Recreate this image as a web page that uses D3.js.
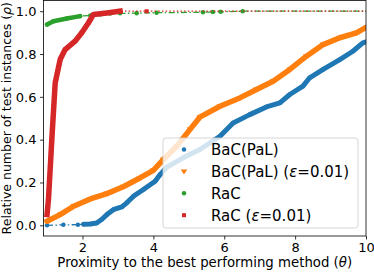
<!DOCTYPE html>
<html>
<head>
<meta charset="utf-8">
<script src="https://cdn.jsdelivr.net/npm/d3@7"></script>
<style>
  body { margin: 0; background: #fff; }
  text { font-family: "DejaVu Sans", sans-serif; fill: #000; }
</style>
</head>
<body>
<div id="chart"></div>
<script>
// Values
var bacX = [1.0, 1.46, 1.87, 2.03, 2.22, 2.4, 2.54, 2.69, 2.87, 3.11, 3.25, 3.44, 3.72, 4.05, 4.19, 4.38, 4.84, 5.31, 5.6, 5.88, 6.25, 6.72, 7.19, 7.57, 7.85, 8.22, 8.41, 8.79, 9.26, 9.63, 9.91, 10.0];
var bacY = [0.0, 0.002, 0.003, 0.005, 0.006, 0.011, 0.027, 0.05, 0.073, 0.086, 0.105, 0.136, 0.167, 0.206, 0.237, 0.272, 0.315, 0.354, 0.385, 0.416, 0.478, 0.517, 0.553, 0.572, 0.611, 0.65, 0.689, 0.728, 0.774, 0.813, 0.852, 0.856];

var bacEpsX = [1.0, 1.37, 1.75, 2.22, 2.69, 3.15, 3.62, 4.0, 4.28, 4.66, 5.03, 5.31, 5.88, 6.44, 6.91, 7.38, 7.85, 8.32, 8.79, 9.26, 9.73, 10.0];
var bacEpsY = [0.019, 0.05, 0.089, 0.123, 0.148, 0.18, 0.221, 0.257, 0.307, 0.369, 0.447, 0.505, 0.556, 0.595, 0.634, 0.673, 0.728, 0.79, 0.844, 0.876, 0.899, 0.925];

var racX = [1.0, 1.18, 1.56, 1.93, 2.22, 2.5, 2.78, 3.06, 3.53, 4.09, 5.4, 5.68, 5.9, 6.52, 10.0];
var racY = [0.938, 0.953, 0.966, 0.977, 0.98, 0.985, 0.989, 0.99, 0.991, 0.993, 0.995, 0.996, 0.997, 1.0, 1.0];

var racEpsX = [1.0, 1.04, 1.14, 1.23, 1.37, 1.51, 1.79, 1.98, 2.17, 2.31, 2.69, 3.06, 3.81, 10.0];
var racEpsY = [0.05, 0.12, 0.416, 0.665, 0.774, 0.821, 0.86, 0.899, 0.946, 0.985, 0.992, 1.0, 1.0, 1.0];

// where the markers crowd into a solid band
var bacDense = [2.03, 10];
var bacEpsDense = [1.0, 10];
var racDense = [1.0, 1.93];
var racEpsDense = [1.0, 3.06];

var xTicks = [2, 4, 6, 8, 10];
var yTicks = [0.0, 0.2, 0.4, 0.6, 0.8, 1.0];

var svgWidth = 374;
var svgHeight = 273;
var margin = { top: 0.5, right: 8, bottom: 37, left: 43.5 };
var chartWidth = svgWidth - margin.left - margin.right;
var chartHeight = svgHeight - margin.top - margin.bottom;

var svg = d3.select("#chart")
  .append("svg")
  .attr("width", svgWidth)
  .attr("height", svgHeight);

var chartGroup = svg.append("g")
  .attr("transform", `translate(${margin.left}, ${margin.top})`);

var xScale = d3.scaleLinear().domain([0.9, 10]).range([0, chartWidth]);
var yScale = d3.scaleLinear().domain([-0.05, 1.05]).range([chartHeight, 0]);

svg.append("defs").append("clipPath").attr("id", "plotclip")
  .append("rect").attr("width", chartWidth).attr("height", chartHeight);

var series = [
  { name: "BaC(PaL)", eps: false, xs: bacX, ys: bacY, dense: bacDense, color: "#1f77b4", shape: "circle", band: 5, dash: "6,2.4,1.5,2.4" },
  { name: "BaC(PaL)", eps: true, xs: bacEpsX, ys: bacEpsY, dense: bacEpsDense, color: "#ff7f0e", shape: "triangle", band: 5.5, dash: "4,2" },
  { name: "RaC", eps: false, xs: racX, ys: racY, dense: racDense, color: "#2ca02c", shape: "circle", band: 4.5, dash: "6,2.4,1.5,2.4" },
  { name: "RaC", eps: true, xs: racEpsX, ys: racEpsY, dense: racEpsDense, color: "#d62728", shape: "square", band: 5.5, dash: "1.5,2.2" }
];

var plot = chartGroup.append("g").attr("clip-path", "url(#plotclip)");
var line = d3.line().x(d => xScale(d[0])).y(d => yScale(d[1]));

function markerPath(shape, size) {
  if (shape === "circle") return d3.symbol(d3.symbolCircle, size)();
  if (shape === "square") return d3.symbol(d3.symbolSquare, size)();
  // downward triangle
  var s = Math.sqrt(size) * 0.75;
  return `M${-s},${-s * 0.6}L${s},${-s * 0.6}L0,${s * 0.9}Z`;
}

series.forEach(function(s) {
  var pts = s.xs.map((x, i) => [x, s.ys[i]]);
  // thin styled line through all points
  plot.append("path")
    .attr("d", line(pts))
    .attr("fill", "none")
    .attr("stroke", s.color)
    .attr("stroke-width", 1.3)
    .attr("stroke-dasharray", s.dash);
  // dense band of overlapping markers
  var densePts = pts.filter(p => p[0] >= s.dense[0] && p[0] <= s.dense[1]);
  plot.append("path")
    .attr("d", line(densePts))
    .attr("fill", "none")
    .attr("stroke", s.color)
    .attr("stroke-width", s.band)
    .attr("stroke-linejoin", "round")
    .attr("stroke-linecap", s.shape === "square" ? "square" : "round");
  // markers
  plot.selectAll(null)
    .data(pts.filter(p => p[0] < 10))
    .enter()
    .append("path")
    .attr("d", markerPath(s.shape, s.shape === "triangle" ? 20 : 16))
    .attr("transform", d => `translate(${xScale(d[0])},${yScale(d[1])})`)
    .attr("fill", s.color);
});

// axes
var bottomAxis = d3.axisBottom(xScale).tickValues(xTicks).tickFormat(d3.format("d")).tickSizeOuter(0).tickSize(3.5).tickPadding(3.5);
var leftAxis = d3.axisLeft(yScale).tickValues(yTicks).tickFormat(d3.format(".1f")).tickSizeOuter(0).tickSize(3.5).tickPadding(3.5);

var xg = chartGroup.append("g")
  .attr("transform", `translate(0, ${chartHeight})`)
  .call(bottomAxis);
var yg = chartGroup.append("g").call(leftAxis);
[xg, yg].forEach(function(g) {
  g.selectAll("text").style("font-family", "DejaVu Sans").style("font-size", "13px").attr("fill", "#000");
  g.selectAll("line").attr("stroke", "#000").attr("stroke-width", 0.8);
  g.select(".domain").remove();
});

// frame
chartGroup.append("rect")
  .attr("width", chartWidth)
  .attr("height", chartHeight)
  .attr("fill", "none")
  .attr("stroke", "#000")
  .attr("stroke-width", 0.8);

// axis titles
var xt = chartGroup.append("text")
  .attr("transform", `translate(${chartWidth / 2}, ${chartHeight + 30.5})`)
  .attr("text-anchor", "middle")
  .attr("font-size", "13.3px")
  .text("Proximity to the best performing method (");
xt.append("tspan").attr("font-style", "italic").text("θ");
xt.append("tspan").text(")");

var yt = chartGroup.append("text")
  .attr("transform", `translate(${-33}, ${chartHeight / 2}) rotate(-90)`)
  .attr("text-anchor", "middle")
  .attr("font-size", "12.5px")
  .text("Relative number of test instances (");
yt.append("tspan").attr("font-style", "italic").text("ρ");
yt.append("tspan").text(")");

// legend
var legend = svg.append("g").attr("transform", "translate(163, 138)");
legend.append("rect")
  .attr("width", 195)
  .attr("height", 90)
  .attr("rx", 3)
  .attr("fill", "#fff")
  .attr("fill-opacity", 0.8)
  .attr("stroke", "#ccc")
  .attr("stroke-width", 0.8);

series.forEach(function(s, i) {
  var row = legend.append("g").attr("transform", `translate(0, ${11.5 + i * 21.9})`);
  row.append("path")
    .attr("d", markerPath(s.shape, s.shape === "triangle" ? 20 : 16))
    .attr("transform", "translate(21, 0)")
    .attr("fill", s.color);
  var t = row.append("text")
    .attr("x", 48)
    .attr("y", 5.5)
    .attr("font-size", "15px")
    .text(s.name);
  if (s.eps) {
    t.append("tspan").text(" (");
    t.append("tspan").attr("font-style", "italic").text("ε");
    t.append("tspan").text("=0.01)");
  }
});
</script>
</body>
</html>
